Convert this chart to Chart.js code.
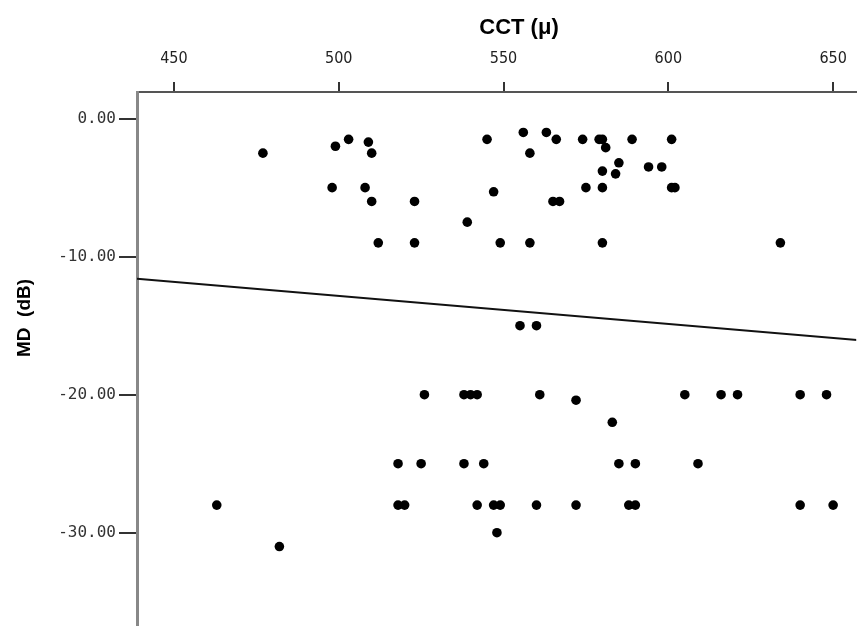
<!DOCTYPE html>
<html>
<head>
<meta charset="utf-8">
<script src="https://cdn.jsdelivr.net/npm/chart.js@4.4.1/dist/chart.umd.min.js"></script>
<style>
  body { margin: 0; background: #fff; }
  canvas { display: block; }
</style>
</head>
<body>
<canvas id="myChart" width="861" height="630"></canvas>
<script>
/** DATA **/
// CCT (microns) and MD (dB) for each eye
const cct = [
  477, 499, 503, 509, 510, 498, 508, 510, 523, 512, 523,
  545, 556, 563, 566, 574, 579, 580, 581, 589, 601, 558,
  585, 580, 584, 594, 598, 547, 575, 580, 601, 602, 565,
  567, 539, 549, 558, 580, 634,
  555, 560,
  526, 538, 540, 542, 561, 605, 616, 621, 640, 648, 572,
  583,
  518, 525, 538, 544, 585, 590, 609,
  463, 518, 520, 542, 547, 549, 560, 572, 588, 590, 640, 650,
  548, 482
];
const md = [
  -2.5, -2, -1.5, -1.7, -2.5, -5, -5, -6, -6, -9, -9,
  -1.5, -1, -1, -1.5, -1.5, -1.5, -1.5, -2.1, -1.5, -1.5, -2.5,
  -3.2, -3.8, -4, -3.5, -3.5, -5.3, -5, -5, -5, -5, -6,
  -6, -7.5, -9, -9, -9, -9,
  -15, -15,
  -20, -20, -20, -20, -20, -20, -20, -20, -20, -20, -20.4,
  -22,
  -25, -25, -25, -25, -25, -25, -25,
  -28, -28, -28, -28, -28, -28, -28, -28, -28, -28, -28, -28,
  -30, -31
];
// fitted regression line (ends at the plot edges)
const fitX = [438.8, 658.1];
const fitY = [-11.6, -16.06];

const xTicks = [450, 500, 550, 600, 650];
const yTicks = [0, -10, -20, -30];

/** CHART **/
const points = cct.map((v, i) => ({ x: v, y: md[i] }));
const fitLine = fitX.map((v, i) => ({ x: v, y: fitY[i] }));

const axisTitles = {
  id: 'axisTitles',
  afterDraw(chart) {
    const ctx = chart.ctx;
    ctx.save();
    ctx.fillStyle = '#000';
    ctx.textAlign = 'center';
    ctx.textBaseline = 'middle';
    ctx.font = 'bold 22px "Liberation Sans", Arial, sans-serif';
    ctx.fillText('CCT (μ)', 519, 28);
    ctx.translate(25, 318);
    ctx.rotate(-Math.PI / 2);
    ctx.font = 'bold 19px "Liberation Sans", Arial, sans-serif';
    ctx.fillText('MD  (dB)', 0, 0);
    ctx.restore();
  }
};

const config = {
  type: 'scatter',
  data: {
    datasets: [
      {
        label: 'MD',
        data: points,
        backgroundColor: '#000',
        borderWidth: 0,
        pointRadius: 4.8
      },
      {
        type: 'line',
        label: 'Fit',
        data: fitLine,
        borderColor: '#111',
        borderWidth: 2,
        pointRadius: 0,
        fill: false
      }
    ]
  },
  options: {
    responsive: false,
    animation: false,
    devicePixelRatio: 1,
    layout: { padding: { left: 0, right: 0, top: 0, bottom: 2 } },
    plugins: {
      legend: { display: false },
      tooltip: { enabled: false }
    },
    scales: {
      x: {
        type: 'linear',
        position: 'top',
        min: 438.8,
        max: 657,
        afterBuildTicks: s => { s.ticks = xTicks.map(v => ({ value: v })); },
        afterFit: s => { s.height = 92; s.paddingLeft = 0; s.paddingRight = 0; },
        ticks: {
          color: '#222',
          padding: 14,
          font: { family: '"DejaVu Sans Condensed", "Liberation Sans Narrow", "DejaVu Sans", sans-serif', size: 16 }
        },
        grid: {
          drawOnChartArea: false,
          tickLength: 10,
          color: '#333',
          lineWidth: 2
        },
        border: { display: true, color: '#555', width: 2 }
      },
      y: {
        type: 'linear',
        min: -36.7,
        max: 1.93,
        afterBuildTicks: s => { s.ticks = yTicks.map(v => ({ value: v })); },
        afterFit: s => { s.width = 137; s.paddingTop = 0; s.paddingBottom = 0; },
        ticks: {
          color: '#333',
          padding: 3,
          callback: v => v.toFixed(2),
          font: { family: '"DejaVu Sans Mono", monospace', size: 16 }
        },
        grid: {
          drawOnChartArea: false,
          tickLength: 18,
          color: '#333',
          lineWidth: 2
        },
        border: { display: true, color: '#888', width: 3 }
      }
    }
  },
  plugins: [axisTitles]
};

var myChart = new Chart(document.getElementById('myChart'), config);
</script>
</body>
</html>
